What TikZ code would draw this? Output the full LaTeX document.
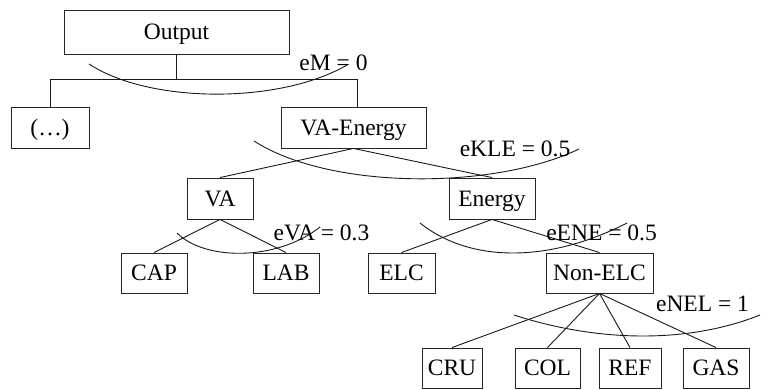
\documentclass[tikz,border=0pt]{standalone}
\usepackage{fontspec}
\setmainfont{Liberation Serif}
\begin{document}
\begin{tikzpicture}[x=1pt,y=-1pt,
  box/.style={draw=black!85,line width=0.9pt,inner sep=0pt,text height=15.5pt,text depth=0pt,font=\fontsize{23.5}{27}\selectfont},
  lbl/.style={inner sep=0pt,text height=15.5pt,text depth=0pt,font=\fontsize{23.5}{27}\selectfont},
  conn/.style={draw=black!90,line width=0.9pt},
  arcline/.style={draw=black!90,line width=0.9pt}]
\useasboundingbox (0,0) rectangle (761,390);
% nodes
\node[box,minimum width=225pt,minimum height=44pt] (out) at (176.5,32) {Output};
\node[box,minimum width=78pt,minimum height=41pt] (dots) at (50,127.5) {(…)};
\node[box,minimum width=145pt,minimum height=41pt] (vae) at (353.5,127.5) {VA-Energy};
\node[box,minimum width=66pt,minimum height=41pt] (va) at (220,198.5) {VA};
\node[box,minimum width=86pt,minimum height=41pt] (en) at (492,198.5) {Energy};
\node[box,minimum width=66pt,minimum height=40pt] (cap) at (154,273) {CAP};
\node[box,minimum width=66pt,minimum height=40pt] (lab) at (286,273) {LAB};
\node[box,minimum width=67pt,minimum height=40pt] (elc) at (401.5,273) {ELC};
\node[box,minimum width=107pt,minimum height=40pt] (nelc) at (599.5,273) {Non-ELC};
\node[box,minimum width=60pt,minimum height=40pt] (cru) at (452,368) {CRU};
\node[box,minimum width=65pt,minimum height=40pt] (col) at (547.5,368) {COL};
\node[box,minimum width=62pt,minimum height=40pt] (ref) at (630,368) {REF};
\node[box,minimum width=66pt,minimum height=40pt] (gas) at (716,368) {GAS};
% connectors
\coordinate (bus) at (0,79);
\draw[conn] (out.south) -- (out.south |- bus);
\draw[conn] (dots.north) -- (dots.north |- bus) -- ([xshift=3.5pt]vae.north |- bus) -- ([xshift=3.5pt]vae.north);
\draw[conn] (vae.south) -- (va.north);
\draw[conn] (vae.south) -- (en.north);
\draw[conn] (va.south) -- (cap.north);
\draw[conn] (va.south) -- (lab.north);
\draw[conn] (en.south) -- (elc.north);
\draw[conn] (en.south) -- (nelc.north);
\draw[conn] (nelc.south) -- (cru.north);
\draw[conn] (nelc.south) -- (col.north);
\draw[conn] (nelc.south) -- (ref.north);
\draw[conn] (nelc.south) -- (gas.north);
% elasticity arcs
\draw[arcline] (89,64) .. controls (150,104) and (280,104) .. (347,65);
\draw[arcline] (254,141) .. controls (330,190) and (494,190) .. (579,149);
\draw[arcline] (177,233) .. controls (205,261) and (277,261) .. (320,227);
\draw[arcline] (420,223) .. controls (470,263) and (549,263) .. (627,223);
\draw[arcline] (514,315) .. controls (600,343) and (690,343) .. (760,315);
% labels
\node[lbl] (lm) at (333.5,62.5) {eM = 0};
\node[lbl] (lk) at (515,148.5) {eKLE = 0.5};
\node[lbl] (lv) at (321.5,232.5) {eVA = 0.3};
\node[lbl] (le) at (601.5,232.5) {eENE = 0.5};
\node[lbl] (ln) at (702.5,303.5) {eNEL = 1};
\end{tikzpicture}
\end{document}
